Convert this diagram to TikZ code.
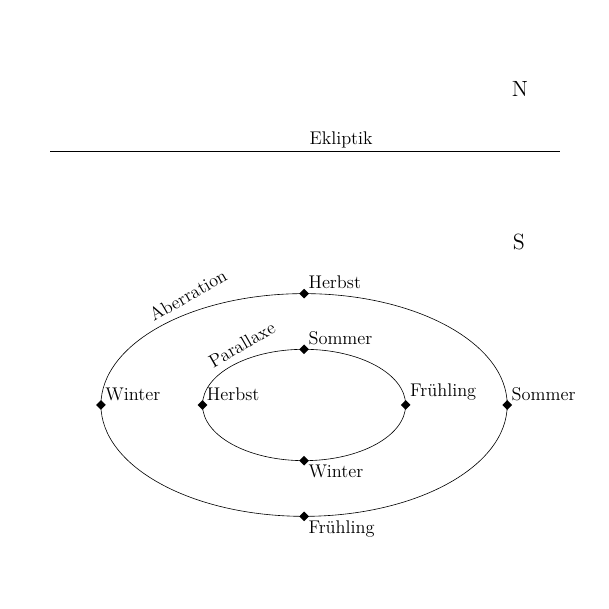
\documentclass[tikz,border=0pt]{standalone}
\usetikzlibrary{shapes.geometric}
\tikzset{
  season/.style={diamond, fill, inner sep=0pt, minimum size=6.5pt},
  seasontext/.style={font=\fontsize{12}{14}\selectfont, inner sep=1pt}
}

\begin{document}
\begin{tikzpicture}
              \useasboundingbox (0,0) rectangle (14,14);
              \def\cx{6.99}
              \def\cy{4.69}
              \def\rx{4.67}
              \def\ry{2.56}
              \coordinate (sun) at (\cx,\cy);

              % Ekliptik und Pole
              \coordinate (eklleft) at (1.15,10.53);
              \coordinate (eklright) at (12.87,10.53);
              \draw (eklleft) -- (eklright)
              node[pos=0.571, above, seasontext, inner sep=2pt]{Ekliptik};
              \node[font=\Large] (north) at (11.95,11.95) {N};
              \node[font=\Large] (south) at (11.93,8.44) {S};

              % Aberration
              \draw (sun) ellipse ({\rx} and {\ry});
              \node[season, label={[seasontext, anchor=south west]north east:Herbst}] (abtop) at (\cx,{\cy+\ry}) {};
              \node[season, label={[seasontext, anchor=north west]south east:Fr\"uhling}] (abbottom) at (\cx,{\cy-\ry}) {};
              \node[season, label={[seasontext, anchor=south west]north east:Winter}] (ableft) at ({\cx-\rx},\cy) {};
              \node[season, label={[seasontext, anchor=south west]north east:Sommer}] (abright) at ({\cx+\rx},\cy) {};
              \node[seasontext, rotate=30] (abname) at (4.32,7.22) {Aberration};

              % Parallaxe
              \draw (sun) ellipse ({\rx/2} and {\ry/2});
              \node[season, label={[seasontext, anchor=south west]north east:Sommer}] (patop) at (\cx,{\cy+\ry/2}) {};
              \node[season, label={[seasontext, anchor=north west]south east:Winter}] (pabottom) at (\cx,{\cy-\ry/2}) {};
              \node[season, label={[seasontext, anchor=south west]north east:Herbst}] (paleft) at ({\cx-\rx/2},\cy) {};
              \node[season, label={[seasontext, anchor=south west]north east:Fr\"uhling}] (paright) at ({\cx+\rx/2},\cy) {};
              \node[seasontext, rotate=30] (paname) at (5.56,6.08) {Parallaxe};
            \end{tikzpicture}
\end{document}
